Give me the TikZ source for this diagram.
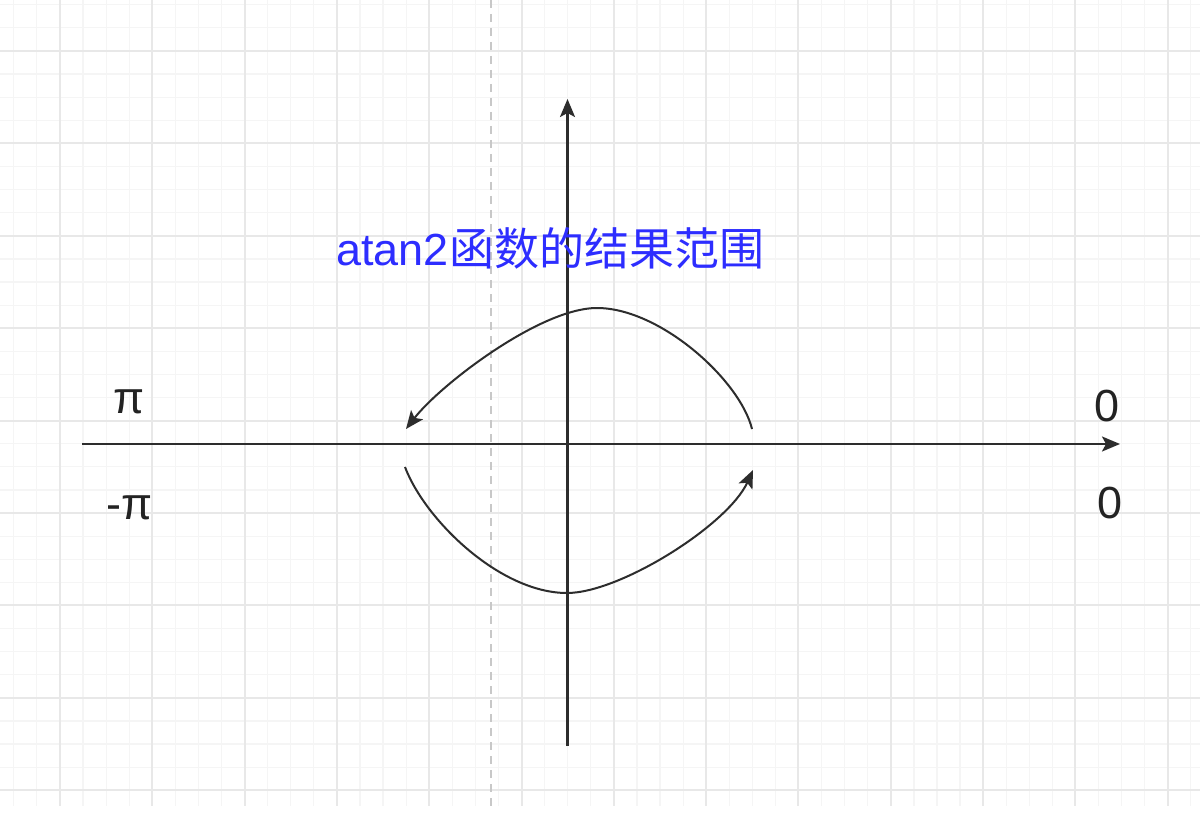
\documentclass[tikz,border=0pt]{standalone}
\usepackage{fontspec}
\setmainfont{Liberation Sans}
\newfontfamily\cjk{Noto Sans CJK SC}
\usetikzlibrary{arrows.meta}
\definecolor{gridmajor}{RGB}{232,232,232}
\definecolor{gridminor}{RGB}{245,245,245}
\definecolor{dashcol}{RGB}{200,200,200}
\definecolor{titleblue}{RGB}{45,45,255}
\definecolor{axiscol}{RGB}{45,45,45}
\definecolor{labelcol}{RGB}{35,35,35}
\begin{document}
\begin{tikzpicture}[x=0.5pt,y=-0.5pt,
  axisline/.style={draw=axiscol, line width=1.1pt, -{Stealth[length=9pt,width=7.5pt,inset=2pt]}},
  curveline/.style={draw=axiscol, line width=1pt, -{Stealth[length=9pt,width=7.5pt,inset=2pt]}},
  minorline/.style={draw=gridminor, line width=0.6pt},
  majorline/.style={draw=gridmajor, line width=1pt},
  lbl/.style={inner sep=0pt, anchor=base, text=labelcol, font=\fontsize{22.5}{27}\selectfont},
  titletext/.style={inner sep=0pt, anchor=base west, text=titleblue, font=\fontsize{22.5}{27}\selectfont}]
\useasboundingbox (0,0) rectangle (1200,813);
\fill[white] (0,0) rectangle (1200,813);
% grid
\foreach \i in {0,...,51} \draw[minorline] ({13.8+23.08*\i},0) -- ({13.8+23.08*\i},806);
\foreach \i in {0,...,34} \draw[minorline] (0,{4.8+23.1*\i}) -- (1200,{4.8+23.1*\i});
\foreach \k in {0,...,12} \draw[majorline] ({60+92.3*\k},0) -- ({60+92.3*\k},806);
\foreach \k in {0,...,8} \draw[majorline] (0,{51+92.4*\k}) -- (1200,{51+92.4*\k});
% dashed guide
\draw[dashcol, line width=0.6pt, dash pattern=on 4pt off 3pt] (491,0) -- (491,806);
% axes
\coordinate (xs) at (82,444);
\coordinate (xe) at (1120,444);
\coordinate (ys) at (567.5,746);
\coordinate (ye) at (567.5,99);
\draw[axisline] (xs) -- (xe);
\draw[axisline] (ys) -- (ye);
% curves
\coordinate (ua) at (752,429);
\coordinate (ut) at (597,308);
\coordinate (ub) at (406,429);
\coordinate (la) at (405,467);
\coordinate (lb) at (567,593);
\coordinate (lc) at (753,470);
\draw[curveline] (ua) .. controls (740,380) and (660,308) .. (ut)
                      .. controls (540,308) and (440,385) .. (ub);
\draw[curveline] (la) .. controls (425,520) and (500,593) .. (lb)
                      .. controls (620,593) and (728,525) .. (lc);
% labels
\node[titletext] (title) at (336,265) {atan2{\cjk 函数的结果范围}};
\node[lbl] (pi) at (129,413) {π};
\node[lbl] (mpi) at (130,519) {-π};
\node[lbl] (z1) at (1107.5,421) {0};
\node[lbl] (z2) at (1110,518) {0};
\end{tikzpicture}
\end{document}
